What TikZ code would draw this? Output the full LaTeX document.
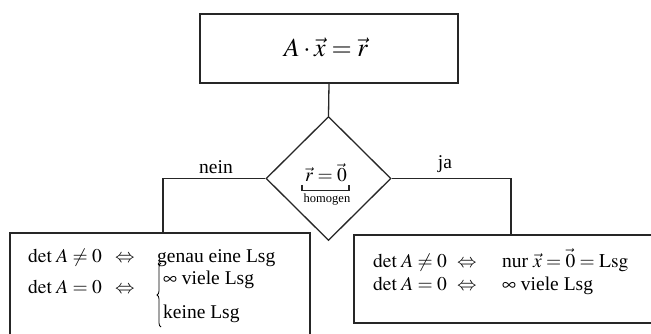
\documentclass[tikz,border=0pt]{standalone}
\usepackage{mathptmx}
\usepackage{fontspec}
\setmainfont{Liberation Serif}
\usetikzlibrary{shapes.geometric,decorations.pathreplacing}
\tikzset{
  ln/.style={line width=1.3pt, draw=black!85},
  boxst/.style={ln},
  txt/.style={inner sep=0pt, anchor=base west, font=\fontsize{19.5}{23}\selectfont},
  ctxt/.style={inner sep=0pt, anchor=base, font=\fontsize{19.5}{23}\selectfont},
  small/.style={inner sep=0pt, anchor=base, font=\fontsize{12.5}{14}\selectfont},
}
\newcommand{\mydet}{\mathrm{det}\;}
\begin{document}
\begin{tikzpicture}[x=1pt,y=-1pt]
\path[use as bounding box, clip] (0,0) rectangle (651,334);
\fill[white] (0,0) rectangle (651,334);
% top box
\node[boxst, draw, rectangle, minimum width=258pt, minimum height=69pt, inner sep=0pt] (top) at (329,48.5) {};
\node[inner sep=0pt, anchor=base, font=\fontsize{26}{30}\selectfont] (eq) at (326,57) {$A\cdot\vec{x}=\vec{r}$};
% diamond
\node[ln, draw, diamond, minimum width=125pt, minimum height=124pt, inner sep=0pt] (d) at (328.5,178.5) {};
\node[ctxt] (cond) at (326,182) {$\vec{r}=\vec{0}$};
\draw[line width=1.1pt, draw=black!85] (302,185) -- (302,190.5) -- (349,190.5) -- (349,185);
\node[small] (hom) at (327,202) {homogen};
% boxes
\draw[boxst] (10,345) -- (10,233) -- (310,233) -- (310,345);
\coordinate (lb) at (163,233);
\draw[boxst] (660,235) -- (354,235) -- (354,323) -- (660,323);
\coordinate (rb) at (511,235);
% connectors
\draw[ln] (top.south) -- (d.north);
\draw[ln] (d.west) -| (lb);
\draw[ln] (d.east) -| (rb);
\node[ctxt] (nein) at (216,174) {nein};
\node[ctxt] (ja) at (445,168) {ja};
% left box text
\node[txt] (l1a) at (28,262) {$\mydet A\neq 0$};
\node[txt] (l1b) at (115,262) {$\Leftrightarrow$};
\node[txt] (l1c) at (157,262) {genau eine Lsg};
\node[txt] (l2a) at (28,293) {$\mydet A=0$};
\node[txt] (l2b) at (115,293) {$\Leftrightarrow$};
\draw[line width=0.8pt, decorate, decoration={brace, amplitude=4pt}] (161,327) -- (161,263);
\node[txt] (l2c) at (163,284) {$\infty$ viele Lsg};
\node[txt] (l3c) at (163,318) {keine Lsg};
% right box text
\node[txt] (r1a) at (373,267) {$\mydet A\neq 0$};
\node[txt] (r1b) at (457,267) {$\Leftrightarrow$};
\node[txt] (r1c) at (502,267) {nur $\vec{x}=\vec{0}=\mathrm{Lsg}$};
\node[txt] (r2a) at (373,290) {$\mydet A=0$};
\node[txt] (r2b) at (457,290) {$\Leftrightarrow$};
\node[txt] (r2c) at (502,290) {$\infty$ viele Lsg};
\end{tikzpicture}
\end{document}
